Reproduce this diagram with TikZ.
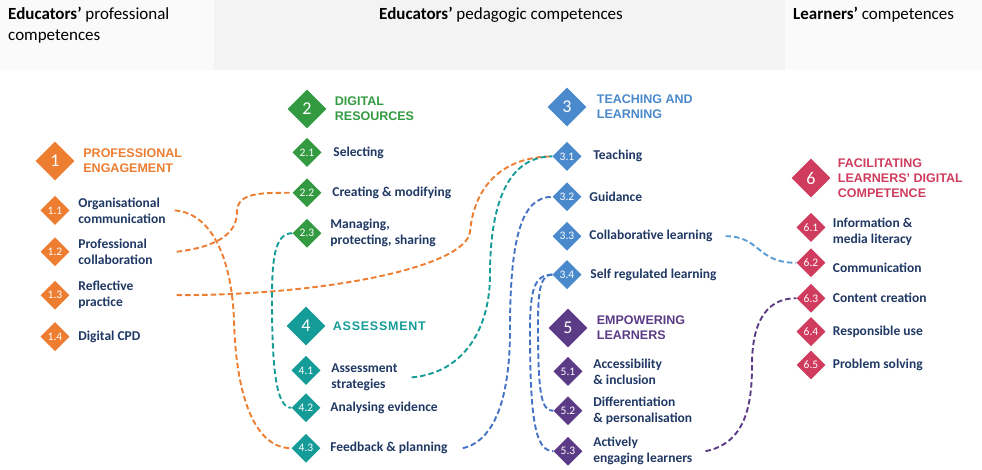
\documentclass[tikz,border=0pt]{standalone}
\usepackage{fontspec}
\setmainfont{Carlito}
\newfontfamily\arialfont{Liberation Sans}
\newfontfamily\arialspaced[LetterSpace=6]{Liberation Sans}
\usetikzlibrary{shapes.geometric,positioning}

\definecolor{orng}{HTML}{ED7D31}
\definecolor{grn}{HTML}{339A42}
\definecolor{blu}{HTML}{4A89CB}
\definecolor{tel}{HTML}{169C98}
\definecolor{prp}{HTML}{5C3B86}
\definecolor{red6}{HTML}{CF3C5E}
\definecolor{navy}{HTML}{1F3864}
\definecolor{linkblue}{HTML}{4472C4}
\definecolor{lightblue}{HTML}{5B9BD5}
\definecolor{headgray}{HTML}{FAFAFA}
\definecolor{midgray}{HTML}{F3F3F3}

\begin{document}
\begin{tikzpicture}[x=1pt,y=-1pt]
      \tikzstyle{bigdia}=[diamond, minimum size=39pt, inner sep=0pt, text=white, font=\fontsize{18}{18}\selectfont]
      \tikzstyle{smalldia}=[diamond, minimum size=29pt, inner sep=0pt, text=white, font=\fontsize{11.5}{11.5}\selectfont]
      \tikzstyle{sectitle}=[inner sep=0pt, align=left, font=\arialfont\bfseries\fontsize{12.5}{15}\selectfont]
      \tikzstyle{itemtxt}=[inner sep=0pt, align=left, text=navy, font=\bfseries\fontsize{13.5}{16}\selectfont]
      \tikzstyle{headtxt}=[inner sep=0pt, align=left, font=\fontsize{17}{21}\selectfont]
      \tikzstyle{link}=[line width=1.9pt, dash pattern=on 5.5pt off 3pt]

      \useasboundingbox (0,0) rectangle (982,470);
      \fill[headgray] (0,0) rectangle (214,70);
      \fill[midgray] (214,0) rectangle (785,70);
      \fill[headgray] (785,0) rectangle (982,70);

      \node[headtxt, anchor=north west] (h1) at (8,7) {\textbf{Educators’} professional\\competences};
      \node[headtxt, anchor=base] (h2) at (501,20) {\textbf{Educators’} pedagogic competences};
      \node[headtxt, anchor=base west] (h3) at (793,20) {\textbf{Learners’} competences};

      % 1 professional engagement
      \node[bigdia, fill=orng] (s1) at (55,161) {1};
      \node[sectitle, text=orng, right=8.5pt of s1] (n1) {PROFESSIONAL\\ENGAGEMENT};
      \node[smalldia, fill=orng, below=15pt of s1] (d11) {1.1};
      \node[smalldia, fill=orng, below=12pt of d11] (d12) {1.2};
      \node[smalldia, fill=orng, below=14pt of d12] (d13) {1.3};
      \node[smalldia, fill=orng, below=12pt of d13] (d14) {1.4};
      \node[itemtxt, right=8.5pt of d11] (t11) {Organisational\\communication};
      \node[itemtxt, right=8.5pt of d12] (t12) {Professional\\collaboration};
      \node[itemtxt, right=8.5pt of d13] (t13) {Reflective\\practice};
      \node[itemtxt, right=8.5pt of d14] (t14) {Digital CPD};

      % 2 digital resources
      \node[bigdia, fill=grn] (s2) at (307,109) {2};
      \node[sectitle, text=grn, right=8pt of s2] (n2) {DIGITAL\\RESOURCES};
      \node[smalldia, fill=grn, below=9pt of s2] (d21) {2.1};
      \node[smalldia, fill=grn, below=11pt of d21] (d22) {2.2};
      \node[smalldia, fill=grn, below=11pt of d22] (d23) {2.3};
      \node[itemtxt, right=11.5pt of d21] (t21) {Selecting};
      \node[itemtxt, right=10.5pt of d22] (t22) {Creating \& modifying};
      \node[itemtxt, right=8.5pt of d23] (t23) {Managing,\\protecting, sharing};

      % 4 assessment
      \node[bigdia, fill=tel] (s4) at (306,326) {4};
      \node[sectitle, text=tel, font=\arialspaced\bfseries\fontsize{12.5}{15}\selectfont, right=7pt of s4] (n4) {ASSESSMENT};
      \node[smalldia, fill=tel, below=10pt of s4] (d41) {4.1};
      \node[smalldia, fill=tel, below=8pt of d41] (d42) {4.2};
      \node[smalldia, fill=tel, below=11pt of d42] (d43) {4.3};
      \node[itemtxt, right=10.5pt of d41, yshift=-7pt] (t41) {Assessment\\strategies};
      \node[itemtxt, right=9.5pt of d42] (t42) {Analysing evidence};
      \node[itemtxt, right=9.5pt of d43] (t43) {Feedback \& planning};

      % 3 teaching and learning
      \node[bigdia, fill=blu] (s3) at (567,107) {3};
      \node[sectitle, text=blu, right=10pt of s3] (n3) {TEACHING AND\\LEARNING};
      \node[smalldia, fill=blu, below=15pt of s3] (d31) {3.1};
      \node[smalldia, fill=blu, below=11pt of d31] (d32) {3.2};
      \node[smalldia, fill=blu, below=10pt of d32] (d33) {3.3};
      \node[smalldia, fill=blu, below=9pt of d33] (d34) {3.4};
      \node[itemtxt, right=11.5pt of d31] (t31) {Teaching};
      \node[itemtxt, right=7.5pt of d32] (t32) {Guidance};
      \node[itemtxt, right=7.5pt of d33] (t33) {Collaborative learning};
      \node[itemtxt, right=8.5pt of d34] (t34) {Self regulated learning};

      % 5 empowering learners
      \node[bigdia, fill=prp] (s5) at (568,328) {5};
      \node[sectitle, text=prp, right=9pt of s5] (n5) {EMPOWERING\\LEARNERS};
      \node[smalldia, fill=prp, below=9pt of s5] (d51) {5.1};
      \node[smalldia, fill=prp, below=10pt of d51] (d52) {5.2};
      \node[smalldia, fill=prp, below=11pt of d52] (d53) {5.3};
      \node[itemtxt, right=10.5pt of d51] (t51) {Accessibility\\\& inclusion};
      \node[itemtxt, right=10.5pt of d52] (t52) {Differentiation\\\& personalisation};
      \node[itemtxt, right=10.5pt of d53] (t53) {Actively\\engaging learners};

      % 6 facilitating learners' digital competence
      \node[bigdia, fill=red6] (s6) at (811,178) {6};
      \node[sectitle, text=red6, right=7pt of s6] (n6) {FACILITATING\\LEARNERS’ DIGITAL\\COMPETENCE};
      \node[smalldia, fill=red6, below=15pt of s6] (d61) {6.1};
      \node[smalldia, fill=red6, below=6pt of d61] (d62) {6.2};
      \node[smalldia, fill=red6, below=6pt of d62] (d63) {6.3};
      \node[smalldia, fill=red6, below=4pt of d63] (d64) {6.4};
      \node[smalldia, fill=red6, below=4pt of d64] (d65) {6.5};
      \node[itemtxt, right=7pt of d61, yshift=-4pt] (t61) {Information \&\\media literacy};
      \node[itemtxt, right=7pt of d62, yshift=-5pt] (t62) {Communication};
      \node[itemtxt, right=7pt of d63] (t63) {Content creation};
      \node[itemtxt, right=7pt of d64] (t64) {Responsible use};
      \node[itemtxt, right=7pt of d65] (t65) {Problem solving};

      % links
      \draw[link, orng] ([xshift=9pt]t11.east) .. controls +(40,3) and +(-2,-55) .. (234,320) .. controls +(2,80) and +(-35,0) .. (d43.west);
      \draw[link, orng] ([xshift=24pt]t12.east) .. controls +(40,-5) and +(0,22) .. (237,212) .. controls +(0,-20) and +(-30,0) .. (d22.west);
      \draw[link, orng] ([xshift=43pt]t13.east) .. controls +(150,0) and +(-5,35) .. (470,232) .. controls +(5,-55) and +(-40,0) .. (d31.west);
      \draw[link, tel] (d23.west) .. controls +(-18,0) and +(0,-40) .. (272,300) .. controls +(0,70) and +(-15,0) .. (d42.west);
      \draw[link, tel] ([xshift=14pt]t41.east) .. controls +(55,-5) and +(0,50) .. (490,275) .. controls +(0,-80) and +(-40,0) .. (d31.west);
      \draw[link, linkblue] ([xshift=15pt]t43.east) .. controls +(35,-8) and +(0,60) .. (510,330) .. controls +(0,-95) and +(-30,0) .. (d32.west);
      \draw[link, linkblue] (d34.west) .. controls +(-18,0) and +(0,-40) .. (530,330) .. controls +(0,90) and +(-18,0) .. (d53.west);
      \draw[link, linkblue] (d34.west) .. controls +(-12,0) and +(0,-35) .. (538,325) .. controls +(0,70) and +(-12,0) .. (d52.west);
      \draw[link, lightblue] ([xshift=13pt]t33.east) .. controls +(35,0) and +(-40,0) .. (d62.west);
      \draw[link, prp] ([xshift=13pt]t53.east) .. controls +(40,-8) and +(0,40) .. (752,365) .. controls +(0,-50) and +(-25,0) .. (d63.west);
\end{tikzpicture}
\end{document}
